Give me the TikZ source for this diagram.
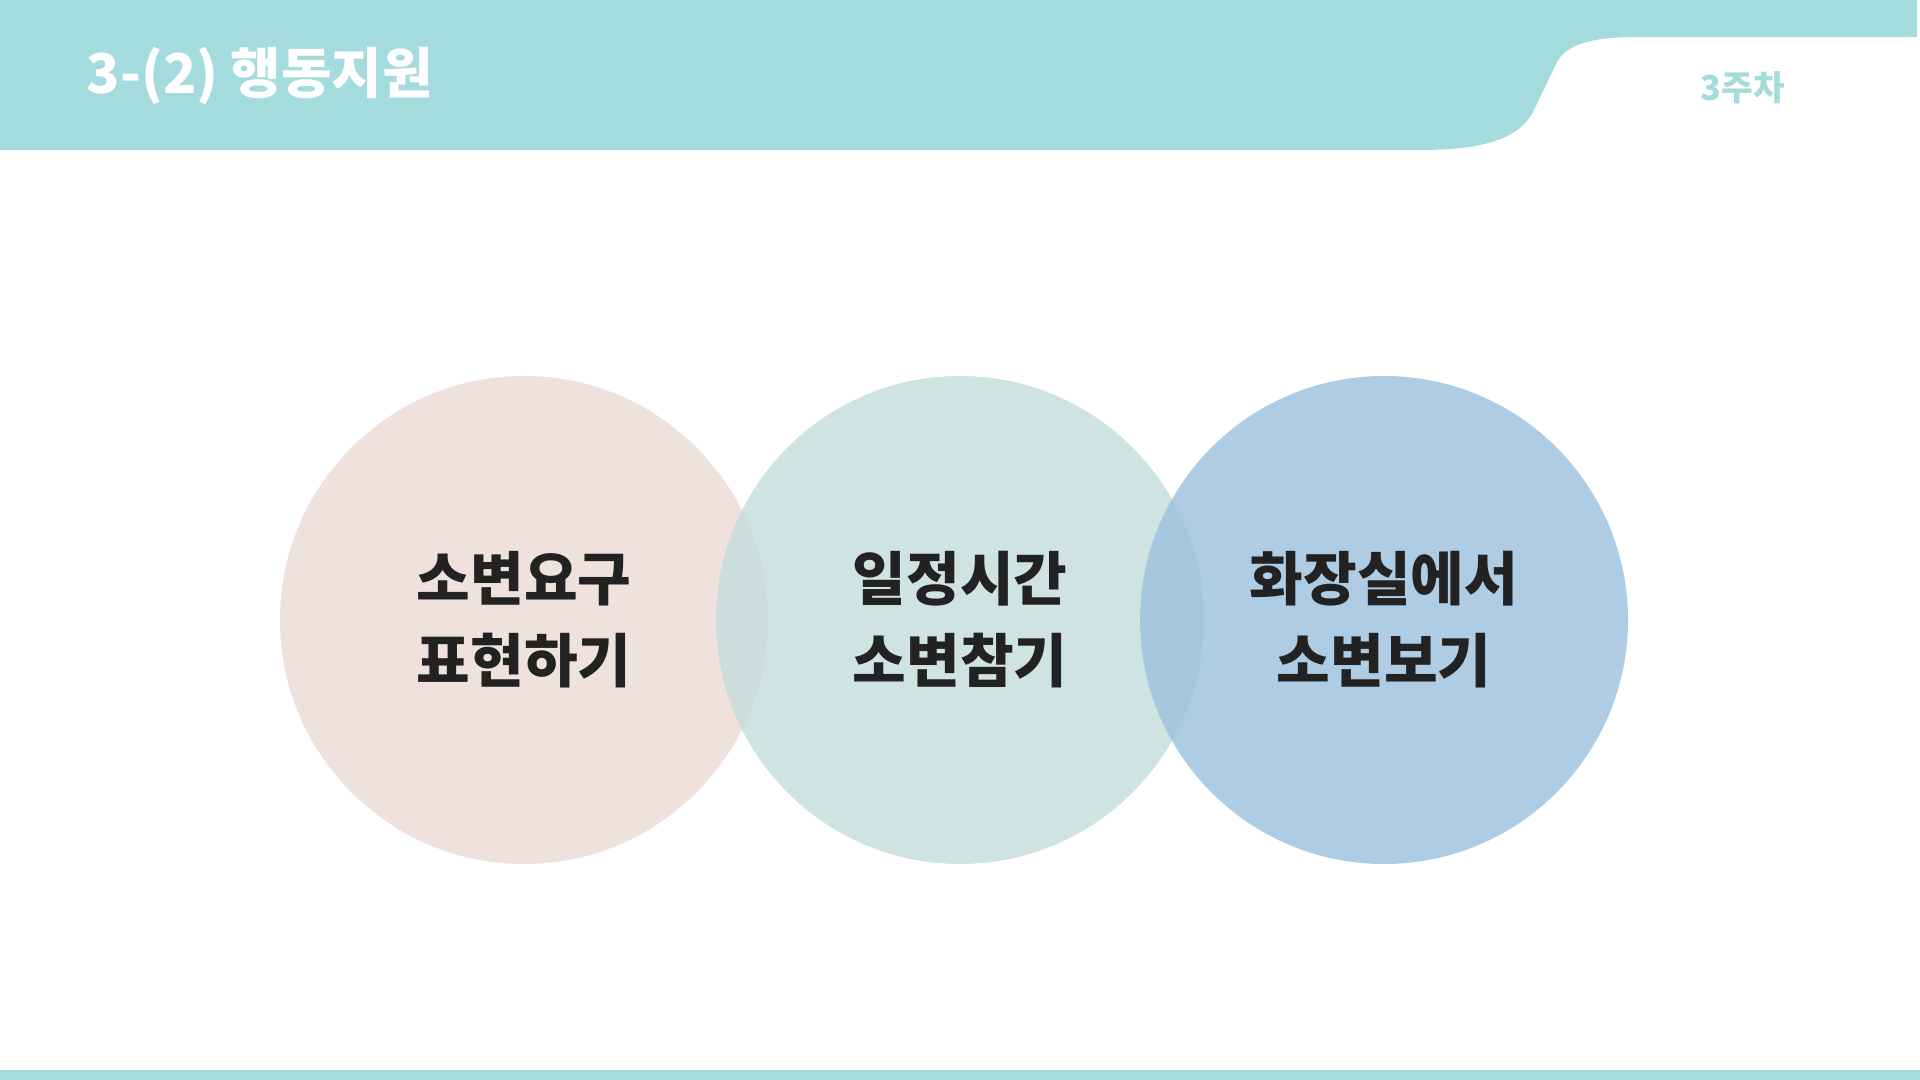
\documentclass[tikz,border=0pt]{standalone}
\usepackage{fontspec}
\setmainfont{Noto Sans CJK KR}
\usepackage{tikz}
\usetikzlibrary{positioning, calc}
\usepackage{xcolor}
\definecolor{bandTeal} {HTML}{A4DCDD}
\definecolor{inkDark}  {HTML}{222222}
\definecolor{bubRose}  {HTML}{ECDCD4}
\definecolor{bubMint}  {HTML}{C4DDDD}
\definecolor{bubBlue}  {HTML}{9CC2DE}
\tikzset{
  bubble/.style = {circle, minimum size=4.88cm, inner sep=0pt, outer sep=0pt,
                   fill opacity=0.82, text opacity=1, text=inkDark, align=center,
                   font=\fontsize{16.6}{23.3}\selectfont\bfseries},
  band/.style   = {fill=bandTeal, draw=none},
}

\begin{document}
\begin{tikzpicture}[
  title/.style={anchor=base west, text=white, inner sep=0pt,
                font=\fontsize{15.6}{17}\selectfont\bfseries},
  week/.style={text=bandTeal, inner sep=0pt,
               font=\fontsize{9.8}{11}\selectfont\bfseries},
]
\useasboundingbox (0,0) rectangle (19.2,10.8);

% header band with the white tab
\fill[band] (0,10.8) -- (19.17,10.8) -- (19.17,10.43) -- (16.37,10.43)
  .. controls (15.9,10.43) and (15.65,10.35) .. (15.56,10.16)
  -- (15.33,9.68)
  .. controls (15.17,9.38) and (14.75,9.3) .. (14.2,9.3)
  -- (0,9.3) -- cycle;
\fill[band] (0,0) rectangle (19.2,0.1);

\node[title] (head) at (0.86,9.86) {3-(2) 행동지원};
\node[week]  (tab)  at (17.43,9.92) {3주차};

\node[bubble, fill=bubRose] (c1) at (5.24,4.6) {소변요구\\표현하기};
\node[bubble, fill=bubMint, right=-0.52cm of c1] (c2) {일정시간\\소변참기};
\node[bubble, fill=bubBlue, right=-0.64cm of c2] (c3) {화장실에서\\소변보기};

\end{tikzpicture}
\end{document}
